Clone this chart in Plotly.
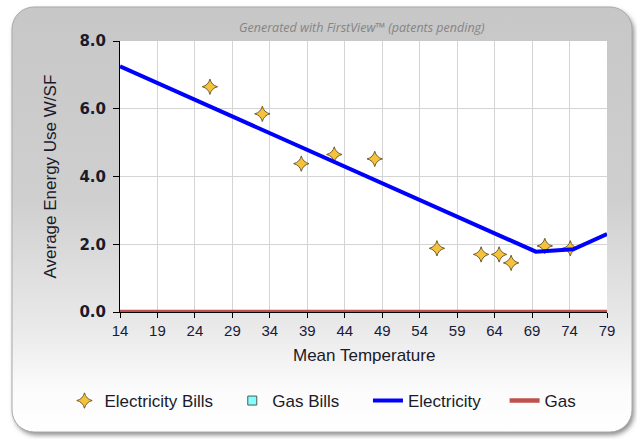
import base64
import plotly.graph_objects as go

# ---- data ----
bill_temp = [26, 33, 38.2, 42.6, 48, 56.3, 62.2, 64.6, 66.2, 70.7, 74.1]
bill_use = [6.65, 5.85, 4.38, 4.65, 4.52, 1.88, 1.70, 1.70, 1.45, 1.95, 1.88]
gas_bill_temp = [None]
gas_bill_use = [None]
elec_temp = [14, 69.5, 74.5, 79]
elec_use = [7.25, 1.78, 1.85, 2.3]
gas_temp = [14, 79]
gas_use = [0.0, 0.0]
x_ticks = [14, 19, 24, 29, 34, 39, 44, 49, 54, 59, 64, 69, 74, 79]
y_ticks = [0, 2, 4, 6, 8]

W, H = 637, 439
L, R, T, B = 120, 30, 41, 127
PW, PH = W - L - R, H - T - B
NB = "\u00a0"

svg = f'''<svg xmlns="http://www.w3.org/2000/svg" width="{W}" height="{H}" viewBox="0 0 {W} {H}">
<defs>
<linearGradient id="g" x1="0" y1="0" x2="0" y2="1">
<stop offset="0" stop-color="#c7c7c7"/>
<stop offset="0.45" stop-color="#cfcfcf"/>
<stop offset="0.75" stop-color="#e9e9e9"/>
<stop offset="0.9" stop-color="#fbfbfb"/>
<stop offset="1" stop-color="#ffffff"/>
</linearGradient>
<filter id="s" x="-5%" y="-5%" width="110%" height="110%"><feGaussianBlur stdDeviation="2.5"/></filter>
</defs>
<rect x="14" y="10" width="620" height="425" rx="22" fill="#8a8a8a" filter="url(#s)"/>
<rect x="12" y="7" width="620" height="425" rx="22" fill="url(#g)" stroke="#a9a9a9" stroke-width="1"/>
<rect x="{L}" y="{T}" width="{PW}" height="{PH}" fill="#ffffff"/>
</svg>'''
src = "data:image/svg+xml;base64," + base64.b64encode(svg.encode()).decode()

fig = go.Figure()
fig.add_trace(go.Scatter(
    x=bill_temp, y=bill_use, mode="markers", name="Electricity Bills" + NB * 3,
    marker=dict(symbol="star-diamond", size=11, color="#f6c23c",
                line=dict(color="#6e5e32", width=1))))
fig.add_trace(go.Scatter(
    x=gas_bill_temp, y=gas_bill_use, mode="markers", name="Gas Bills" + NB * 5,
    marker=dict(symbol="square", size=9, color="#80ffff",
                line=dict(color="#555555", width=1))))
fig.add_trace(go.Scatter(
    x=elec_temp, y=elec_use, mode="lines", name="Electricity" + NB * 4,
    line=dict(color="#0000ff", width=4)))
fig.add_trace(go.Scatter(
    x=gas_temp, y=gas_use, mode="lines", name="Gas",
    line=dict(color="#c0504d", width=4.5)))

fig.update_layout(
    width=W, height=H,
    margin=dict(l=L, r=R, t=T, b=B),
    paper_bgcolor="white", plot_bgcolor="white",
    showlegend=True,
    legend=dict(orientation="h", x=-0.114, xanchor="left", y=(312 - 401) / PH,
                yanchor="middle", bgcolor="rgba(0,0,0,0)",
                font=dict(family="Liberation Sans", size=17, color="#1a1a2a")),
    images=[dict(source=src, xref="paper", yref="paper",
                 x=-L / PW, y=1 + T / PH, sizex=W / PW, sizey=H / PH,
                 xanchor="left", yanchor="top", sizing="stretch", layer="below")],
    annotations=[
        dict(text="Generated with FirstView™ (patents pending)", xref="paper", yref="paper",
             x=(362 - L) / PW, y=1 + (T - 27) / PH, showarrow=False, xanchor="center",
             yanchor="middle", font=dict(family="Open Sans", size=12.5, color="#858585",
                                         style="italic")),
        dict(text="Average Energy Use W/SF", xref="paper", yref="paper",
             x=(50 - L) / PW, y=0.5, showarrow=False, textangle=-90,
             xanchor="center", yanchor="middle",
             font=dict(family="Liberation Sans", size=17, color="#1a1a2a")),
        dict(text="Mean Temperature", xref="paper", yref="paper",
             x=0.5, y=(312 - 355) / PH, showarrow=False,
             xanchor="center", yanchor="middle",
             font=dict(family="Liberation Sans", size=17, color="#1a1a2a")),
    ],
    xaxis=dict(range=[14, 79], tickvals=x_ticks, ticktext=[str(v) for v in x_ticks],
               showgrid=True, gridcolor="#d4d4d4", gridwidth=1,
               showline=True, linecolor="black", linewidth=1,
               ticks="outside", ticklen=5, tickcolor="black",
               tickfont=dict(family="Liberation Sans", size=15, color="#1a1a3a"),
               zeroline=False, fixedrange=True),
    yaxis=dict(range=[0, 8], tickvals=y_ticks, ticktext=[f"{v:.1f}" for v in y_ticks],
               showgrid=True, gridcolor="#d4d4d4", gridwidth=1,
               showline=True, linecolor="black", linewidth=1,
               ticks="outside", ticklen=6, tickcolor="black", ticklabelstandoff=4,
               tickfont=dict(family="DejaVu Sans", size=15, color="#1a1a2a", weight="bold"),
               zeroline=False, fixedrange=True),
)

fig.write_html("out.html", config={"displayModeBar": False},
               post_script="document.body.style.margin='0';")
